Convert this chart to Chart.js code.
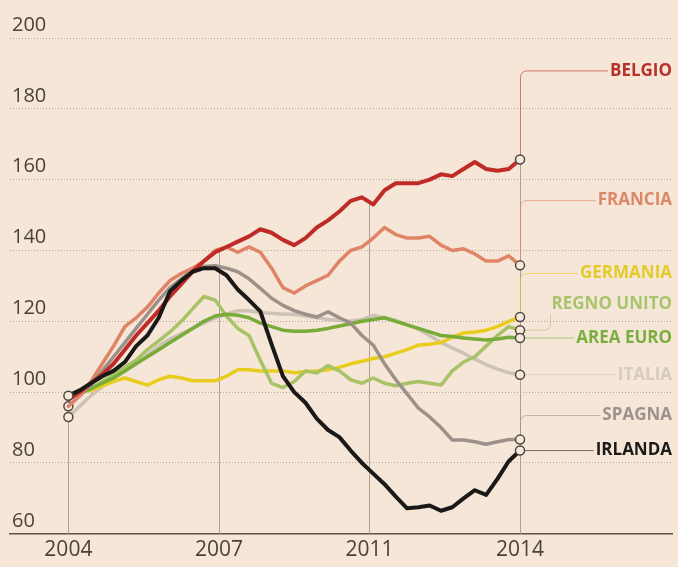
<!DOCTYPE html>
<html>
<head>
<meta charset="utf-8">
<script src="https://cdn.jsdelivr.net/npm/chart.js@4.4.1/dist/chart.umd.min.js"></script>
<style>
  html, body { margin: 0; padding: 0; background: #f5e6d8; }
  #wrap { width: 678px; height: 567px; }
</style>
</head>
<body>
<div id="wrap"><canvas id="houseChart"></canvas></div>
<script>
// quarterly index values, 2004 -> 2014 (41 points)
var belgio = [98, 100, 102.5, 105, 108, 112, 116, 119.5, 123, 127, 130.5, 134, 137, 139.5, 141, 142.5, 144, 146, 145, 143,
  141.5, 143.5, 146.5, 148.5, 151, 154, 155, 153, 157, 159, 159, 159, 160, 161.5, 161, 163, 165, 163, 162.5, 163, 165.7];
var francia = [96, 99, 103, 108, 113, 118.5, 121, 124, 128, 131.5, 133.5, 135, 137, 140, 141, 139.5, 141, 139.5, 135, 129.5,
  128, 130, 131.5, 133, 137, 140, 141, 143.5, 146.5, 144.5, 143.5, 143.5, 144, 141.5, 140, 140.5, 139, 137, 137, 138.5, 135.8];
var germania = [99, 100, 100.5, 101.8, 103, 104, 103, 102, 103.5, 104.5, 104, 103.2, 103.2, 103.2, 104.5, 106.3, 106.3, 106, 106, 106,
  105.5, 105.8, 106, 106.3, 107, 108, 108.7, 109.5, 110, 111, 112, 113.3, 113.5, 114, 115.5, 116.7, 117, 117.5, 118.5, 120, 121.2];
var regnoUnito = [98, 100, 101, 103, 105, 107, 109, 112, 114.5, 117, 120, 123.5, 127, 126, 121.5, 118, 116, 109, 102.5, 101.3,
  103, 106, 105.4, 107.5, 106, 103.5, 102.5, 104, 102.5, 101.8, 102.5, 103, 102.5, 102, 106, 108.5, 110, 113, 116, 118.5, 117.5];
var areaEuro = [98, 99.5, 101, 102.5, 104, 106, 108, 110, 112, 114, 116, 118, 120, 121.5, 122, 121.7, 121, 119.5, 118.5, 117.5,
  117.2, 117.2, 117.5, 118, 118.7, 119.3, 120, 120.5, 121, 120, 119, 118, 117, 116, 115.7, 115.3, 115, 114.7, 115, 115.5, 115.3];
var italia = [93, 96, 99, 101.5, 104, 106, 108, 110.5, 113, 115, 116.5, 118, 119.5, 121, 122, 123, 123, 122.5, 122.3, 122,
  122, 121.5, 121, 120.5, 120.3, 120, 120.5, 121.7, 121, 120.3, 119, 117.8, 116, 114, 112.5, 111, 109.3, 107.8, 106.5, 105.5, 104.9];
var spagna = [96, 99, 102, 106, 110, 114, 118, 122, 126, 129.5, 132, 134.5, 135.5, 135.7, 135, 134, 132, 129.3, 126.5, 124.5,
  123, 122, 121.2, 122.7, 121, 119.5, 116, 113.3, 108, 103.5, 99.5, 95.5, 93, 90, 86.5, 86.5, 86, 85.3, 86, 86.6, 86.6];
var irlanda = [99, 100.5, 102.5, 104.5, 106, 108.5, 113, 116, 121, 128.5, 131.5, 134, 135, 135, 133, 129, 126, 122.8, 113.5, 104.5,
  100, 97, 92.5, 89.3, 87.3, 83.5, 80, 77, 74, 70.5, 67.2, 67.5, 68, 66.5, 67.5, 70, 72.3, 71, 75.5, 80.5, 83.5];

var tickLabels = ['2004', '2007', '2011', '2014'];
var tickPos = [0, 40 / 3, 80 / 3, 40];

// name, values, colour, label height (y units), leader kind, circle at 2004
var series = [
  { name: 'IRLANDA', values: irlanda, color: '#1b1918', text: '#1b1918', labelY: 83.5, kind: 'flat', start: true },
  { name: 'BELGIO', values: belgio, color: '#bf2b26', text: '#b8302a', labelY: 190.7, kind: 'up' },
  { name: 'FRANCIA', values: francia, color: '#df8466', text: '#dc8768', labelY: 154.1, kind: 'up' },
  { name: 'SPAGNA', values: spagna, color: '#9b918a', text: '#9d938c', labelY: 93.4, kind: 'up', start: true },
  { name: 'AREA EURO', values: areaEuro, color: '#78ab38', text: '#7aae3e', labelY: 115.3, kind: 'flat' },
  { name: 'REGNO UNITO', values: regnoUnito, color: '#a8c266', text: '#a9c46f', labelY: 124.8, kind: 'side' },
  { name: 'GERMANIA', values: germania, color: '#e9cd1e', text: '#e3cb2a', labelY: 133.5, kind: 'up' },
  { name: 'ITALIA', values: italia, color: '#cdc2b6', text: '#d6cbc0', labelY: 104.9, kind: 'flat', start: true }
];

var labelFont = 'bold 17px "Open Sans", sans-serif';

function roundedPath(ctx, pts, r) {
  ctx.beginPath();
  ctx.moveTo(pts[0][0], pts[0][1]);
  for (var i = 1; i < pts.length - 1; i++) {
    ctx.arcTo(pts[i][0], pts[i][1], pts[i + 1][0], pts[i + 1][1], r);
  }
  ctx.lineTo(pts[pts.length - 1][0], pts[pts.length - 1][1]);
  ctx.stroke();
}

var annotate = {
  id: 'annotate',
  beforeDatasetsDraw: function(chart) {
    var ctx = chart.ctx, xs = chart.scales.x, ys = chart.scales.y;
    var bottom = chart.chartArea.bottom;
    ctx.save();
    // drop lines at the year ticks
    ctx.strokeStyle = '#aaa099';
    ctx.lineWidth = 1;
    tickPos.forEach(function(p) {
      var idx = Math.round(p);
      var top = Math.max.apply(null, series.map(function(s) { return s.values[idx]; }));
      var px = Math.round(xs.getPixelForValue(p)) + 0.5;
      ctx.beginPath();
      ctx.moveTo(px, bottom);
      ctx.lineTo(px, ys.getPixelForValue(top));
      ctx.stroke();
    });
    // leader lines
    ctx.font = labelFont;
    series.forEach(function(s) {
      var last = s.values.length - 1;
      var x0 = Math.round(xs.getPixelForValue(last)) + 0.5;
      var y0 = ys.getPixelForValue(s.values[last]);
      var ly = ys.getPixelForValue(s.labelY);
      var tx = chart.width - 6 - ctx.measureText(s.name).width - 2;
      ctx.strokeStyle = s.color;
      ctx.globalAlpha = 0.6;
      ctx.lineWidth = 1;
      if (s.kind === 'up') {
        roundedPath(ctx, [[x0, y0], [x0, ly], [tx, ly]], 6);
      } else if (s.kind === 'side') {
        var xe = x0 + 30;
        roundedPath(ctx, [[x0, y0], [xe, y0], [xe, ly + 10]], 6);
      } else {
        roundedPath(ctx, [[x0, y0], [tx, y0]], 0);
      }
    });
    ctx.restore();
  },
  afterDatasetsDraw: function(chart) {
    var ctx = chart.ctx, ys = chart.scales.y;
    ctx.save();
    ctx.font = labelFont;
    ctx.textAlign = 'right';
    ctx.textBaseline = 'middle';
    series.forEach(function(s) {
      ctx.fillStyle = s.text;
      ctx.fillText(s.name, chart.width - 6, ys.getPixelForValue(s.labelY));
    });
    ctx.restore();
  }
};

var datasets = series.map(function(s) {
  var last = s.values.length - 1;
  return {
    label: s.name,
    data: s.values.map(function(v, i) { return { x: i, y: v }; }),
    borderColor: s.color,
    borderWidth: s.name === 'IRLANDA' || s.name === 'BELGIO' ? 4 : 3.5,
    borderJoinStyle: 'round',
    borderCapStyle: 'round',
    tension: 0,
    pointRadius: function(c) {
      return c.dataIndex === last || (c.dataIndex === 0 && s.start) ? 4.5 : 0;
    },
    pointBackgroundColor: '#f7e9dc',
    pointBorderColor: '#4f4741',
    pointBorderWidth: 1.5,
    clip: false
  };
});

var ctx = document.getElementById('houseChart').getContext('2d');
var houseChart = new Chart(ctx, {
  type: 'line',
  data: { datasets: datasets },
  options: {
    responsive: true,
    maintainAspectRatio: false,
    animation: false,
    layout: { padding: { top: 38, left: 6, right: 0, bottom: 0 } },
    plugins: { legend: { display: false }, tooltip: { enabled: false } },
    scales: {
      x: {
        type: 'linear',
        min: -5.17,
        max: 53.46,
        afterBuildTicks: function(axis) {
          axis.ticks = tickPos.map(function(v) { return { value: v }; });
        },
        ticks: {
          padding: 4,
          color: '#4a413a',
          font: { family: '"Open Sans", sans-serif', size: 21 },
          maxRotation: 0,
          autoSkip: false,
          callback: function(value, index) { return tickLabels[index]; }
        },
        grid: { display: false, drawTicks: false },
        border: { display: true, color: '#5b5048', width: 1.5 }
      },
      y: {
        min: 60,
        max: 200,
        ticks: {
          stepSize: 20,
          mirror: true,
          padding: 2,
          labelOffset: -13,
          color: '#4a413a',
          font: { family: '"Open Sans", sans-serif', size: 20 }
        },
        grid: { color: '#b5a597', lineWidth: 1, drawTicks: false },
        border: { display: false, dash: [1, 2] }
      }
    }
  },
  plugins: [annotate]
});
</script>
</body>
</html>
